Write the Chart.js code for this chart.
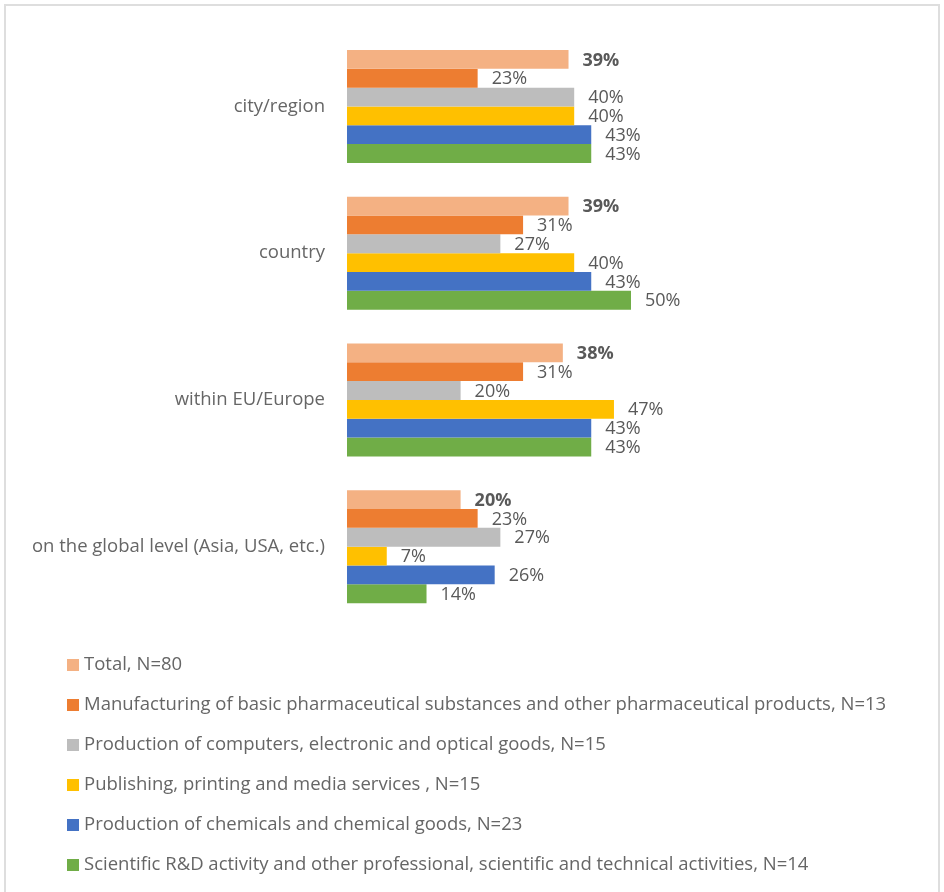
<!DOCTYPE html>
<html>
<head>
<meta charset="utf-8">
<script src="https://cdn.jsdelivr.net/npm/chart.js@4/dist/chart.umd.min.js"></script>
<style>
  html, body { margin: 0; padding: 0; background: #ffffff; }
  #wrap { position: relative; width: 944px; height: 892px; }
  canvas { display: block; }
</style>
</head>
<body>
<div id="wrap"><canvas id="chart" width="944" height="892"></canvas></div>
<script>
// Categories (scope of cooperation) and the six respondent groups
const categories = [
  'city/region',
  'country',
  'within EU/Europe',
  'on the global level (Asia, USA, etc.)'
];

const seriesNames = [
  'Total, N=80',
  'Manufacturing of basic pharmaceutical substances and other pharmaceutical products, N=13',
  'Production of computers, electronic and optical goods, N=15',
  'Publishing, printing and media services , N=15',
  'Production of chemicals and chemical goods, N=23',
  'Scientific R&D activity and other professional, scientific and technical activities, N=14'
];

// Shares in percent, one value per category
const totalValues      = [39, 39, 38, 20];
const pharmaValues     = [23, 31, 31, 23];
const computersValues  = [40, 27, 20, 27];
const publishingValues = [40, 40, 47, 7];
const chemicalsValues  = [43, 43, 43, 26];
const scientificValues = [43, 50, 43, 14];

const seriesColors = ['#F4B183', '#ED7D31', '#BDBDBD', '#FFC000', '#4472C4', '#70AD47'];

const FONT = '"Open Sans", Lato, sans-serif';
const TEXT = '#666666';

const allValues = [totalValues, pharmaValues, computersValues, publishingValues, chemicalsValues, scientificValues];

const datasets = allValues.map((vals, i) => ({
  label: seriesNames[i],
  data: vals,
  backgroundColor: seriesColors[i],
  borderWidth: 0,
  categoryPercentage: 0.77,
  barPercentage: 1.0
}));

// Thin frame around the whole figure
const framePlugin = {
  id: 'frame',
  beforeDraw(chart) {
    const ctx = chart.ctx;
    ctx.save();
    ctx.fillStyle = '#ffffff';
    ctx.fillRect(0, 0, chart.width, chart.height);
    ctx.strokeStyle = '#dedede';
    ctx.lineWidth = 2;
    ctx.strokeRect(5, 5, chart.width - 10, chart.height + 20);
    ctx.restore();
  }
};

// Percentage labels to the right of each bar
const valueLabelPlugin = {
  id: 'valueLabels',
  afterDatasetsDraw(chart) {
    const ctx = chart.ctx;
    ctx.save();
    ctx.fillStyle = '#595959';
    ctx.textAlign = 'left';
    ctx.textBaseline = 'middle';
    chart.data.datasets.forEach((ds, di) => {
      const meta = chart.getDatasetMeta(di);
      ctx.font = (di === 0 ? 'bold ' : '') + '18px ' + FONT;
      meta.data.forEach((bar, idx) => {
        ctx.fillText(ds.data[idx] + '%', bar.x + 14, bar.y + 1);
      });
    });
    ctx.restore();
  }
};

// Vertical legend list below the plot
const listLegendPlugin = {
  id: 'listLegend',
  afterDraw(chart) {
    const ctx = chart.ctx;
    const top = chart.chartArea.bottom + 45;
    ctx.save();
    ctx.font = '18.5px ' + FONT;
    ctx.textBaseline = 'middle';
    ctx.textAlign = 'left';
    chart.data.datasets.forEach((ds, i) => {
      const y = top + i * 40;
      ctx.fillStyle = ds.backgroundColor;
      ctx.fillRect(67, y - 6, 12, 12);
      ctx.fillStyle = TEXT;
      ctx.fillText(ds.label, 84, y);
    });
    ctx.restore();
  }
};

new Chart(document.getElementById('chart'), {
  type: 'bar',
  data: { labels: categories, datasets },
  options: {
    indexAxis: 'y',
    responsive: false,
    animation: false,
    layout: { padding: { top: 32, bottom: 272, left: 0, right: 29 } },
    plugins: {
      legend: { display: false },
      tooltip: { enabled: false }
    },
    scales: {
      x: {
        display: false,
        min: 0,
        max: 100
      },
      y: {
        grid: { display: false, drawTicks: false },
        border: { display: false },
        ticks: {
          color: TEXT,
          font: { family: FONT, size: 18.5 },
          padding: 22
        },
        afterFit(scale) { scale.width = 347; }
      }
    }
  },
  plugins: [framePlugin, valueLabelPlugin, listLegendPlugin]
});
</script>
</body>
</html>
